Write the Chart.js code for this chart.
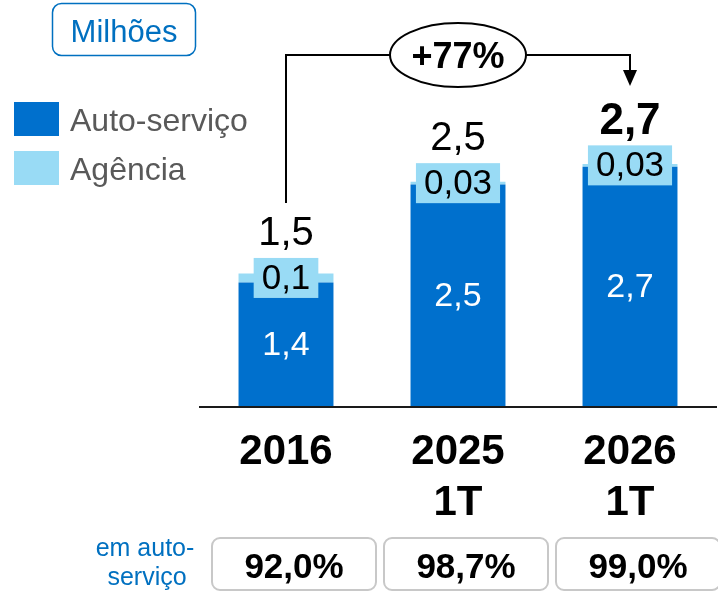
<!DOCTYPE html>
<html>
<head>
<meta charset="utf-8">
<title>Auto-serviço vs Agência</title>
<script src="https://cdn.jsdelivr.net/npm/chart.js"></script>
<style>
  html, body { margin: 0; padding: 0; background: #fff; }
  #chart { display: block; }
</style>
</head>
<body>
<canvas id="chart" width="718" height="594"></canvas>
<script>
// dados do gráfico
const categorias = [['2016'], ['2025', '1T'], ['2026', '1T']];
const autoServico = [1.4, 2.5, 2.7];
const agencia = [0.1, 0.03, 0.03];
const emAutoServico = ['92,0%', '98,7%', '99,0%'];
const crescimento = '+77%';

const AZUL = '#0070cd';
const AZUL_CLARO = '#99dbf5';
const AZUL_TEXTO = '#0070c0';
const FONTE = '"Liberation Sans", Arial, sans-serif';

// número com vírgula decimal
function fmt(v) { return String(v).replace('.', ','); }

function caixa(ctx, x, y, w, h, r) {
  ctx.beginPath();
  ctx.moveTo(x + r, y);
  ctx.arcTo(x + w, y, x + w, y + h, r);
  ctx.arcTo(x + w, y + h, x, y + h, r);
  ctx.arcTo(x, y + h, x, y, r);
  ctx.arcTo(x, y, x + w, y, r);
  ctx.closePath();
}

// rótulos dos segmentos e totais
const rotulos = {
  id: 'rotulos',
  afterDatasetsDraw(chart) {
    const ctx = chart.ctx;
    const barrasAuto = chart.getDatasetMeta(0).data;
    const barrasAg = chart.getDatasetMeta(1).data;
    ctx.save();
    ctx.textAlign = 'center';
    ctx.textBaseline = 'middle';

    barrasAuto.forEach((b, i) => {
      ctx.fillStyle = '#fff';
      ctx.font = '34px ' + FONTE;
      ctx.fillText(fmt(autoServico[i]), b.x, (b.y + b.base) / 2 + 1);
    });

    barrasAg.forEach((b, i) => {
      const txt = fmt(agencia[i]);
      ctx.font = '35px ' + FONTE;
      const w = ctx.measureText(txt).width + 16;
      const cy = (b.y + b.base) / 2;
      ctx.fillStyle = AZUL_CLARO;
      ctx.fillRect(b.x - w / 2, cy - 20, w, 40);
      ctx.fillStyle = '#000';
      ctx.fillText(txt, b.x, cy + 1);

      const total = (autoServico[i] + agencia[i]).toFixed(1);
      ctx.font = (i === barrasAg.length - 1 ? 'bold 44px ' : '40px ') + FONTE;
      ctx.fillText(fmt(total), b.x, cy - 20 - 24);
    });
    ctx.restore();
  },
  afterDraw(chart) {
    const ctx = chart.ctx;
    const barras = chart.getDatasetMeta(1).data;
    ctx.save();

    // caixa "Milhões"
    ctx.strokeStyle = AZUL_TEXTO;
    ctx.lineWidth = 1.5;
    caixa(ctx, 52.5, 3.5, 143, 52, 9);
    ctx.stroke();
    ctx.fillStyle = AZUL_TEXTO;
    ctx.font = '31px ' + FONTE;
    ctx.textAlign = 'center';
    ctx.textBaseline = 'middle';
    ctx.fillText('Milhões', 124, 33);

    // legenda
    const legenda = [['Auto-serviço', AZUL, 119], ['Agência', AZUL_CLARO, 168]];
    ctx.textAlign = 'left';
    ctx.font = '32px ' + FONTE;
    legenda.forEach(([txt, cor, y]) => {
      ctx.fillStyle = cor;
      ctx.fillRect(14, y - 17, 45, 34);
      ctx.fillStyle = '#595959';
      ctx.fillText(txt, 70, y + 3);
    });

    // seta de crescimento
    const x0 = barras[0].x, x2 = barras[barras.length - 1].x;
    const cy0 = (barras[0].y + barras[0].base) / 2;
    const yTopo = 55;
    ctx.strokeStyle = '#000';
    ctx.lineWidth = 2;
    ctx.beginPath();
    ctx.moveTo(x0, cy0 - 20 - 25 - 30);
    ctx.lineTo(x0, yTopo);
    ctx.lineTo(x2, yTopo);
    ctx.lineTo(x2, 72);
    ctx.stroke();
    ctx.fillStyle = '#000';
    ctx.beginPath();
    ctx.moveTo(x2 - 7, 70);
    ctx.lineTo(x2 + 7, 70);
    ctx.lineTo(x2, 86);
    ctx.closePath();
    ctx.fill();

    const xm = (x0 + x2) / 2;
    ctx.beginPath();
    ctx.ellipse(xm, yTopo, 68, 32, 0, 0, Math.PI * 2);
    ctx.fillStyle = '#fff';
    ctx.fill();
    ctx.stroke();
    ctx.fillStyle = '#000';
    ctx.font = 'bold 36px ' + FONTE;
    ctx.textAlign = 'center';
    ctx.fillText(crescimento, xm, yTopo + 3);

    // percentuais em auto-serviço
    ctx.fillStyle = AZUL_TEXTO;
    ctx.font = '25px ' + FONTE;
    ctx.textAlign = 'center';
    ctx.textBaseline = 'alphabetic';
    ctx.fillText('em auto-', 145, 556);
    ctx.fillText('serviço', 147, 585);

    ctx.textBaseline = 'middle';
    barras.forEach((b, i) => {
      ctx.strokeStyle = '#c8c8c8';
      ctx.lineWidth = 2;
      caixa(ctx, b.x + 8 - 82, 538, 164, 52, 8);
      ctx.stroke();
      ctx.fillStyle = '#000';
      ctx.font = 'bold 35px ' + FONTE;
      ctx.fillText(emAutoServico[i], b.x + 8, 568);
    });
    ctx.restore();
  }
};

new Chart(document.getElementById('chart'), {
  type: 'bar',
  data: {
    labels: categorias,
    datasets: [
      { label: 'Auto-serviço', data: autoServico, backgroundColor: AZUL },
      { label: 'Agência', data: agencia, backgroundColor: AZUL_CLARO }
    ]
  },
  options: {
    responsive: false,
    animation: false,
    layout: { padding: { left: 200, right: 2, top: 51, bottom: 0 } },
    datasets: { bar: { categoryPercentage: 1, barPercentage: 0.552 } },
    plugins: { legend: { display: false }, tooltip: { enabled: false } },
    scales: {
      x: {
        stacked: true,
        grid: { display: false, drawTicks: false },
        border: { display: true, color: '#1a1a1a', width: 2, z: 1 },
        ticks: {
          color: '#000',
          font: { family: FONTE, size: 42, weight: 'bold', lineHeight: 1.22 },
          padding: 20,
          maxRotation: 0,
          autoSkip: false
        },
        afterFit(scale) { scale.height = 187; }
      },
      y: {
        stacked: true,
        display: false,
        min: 0,
        max: 4
      }
    }
  },
  plugins: [rotulos]
});
</script>
</body>
</html>
